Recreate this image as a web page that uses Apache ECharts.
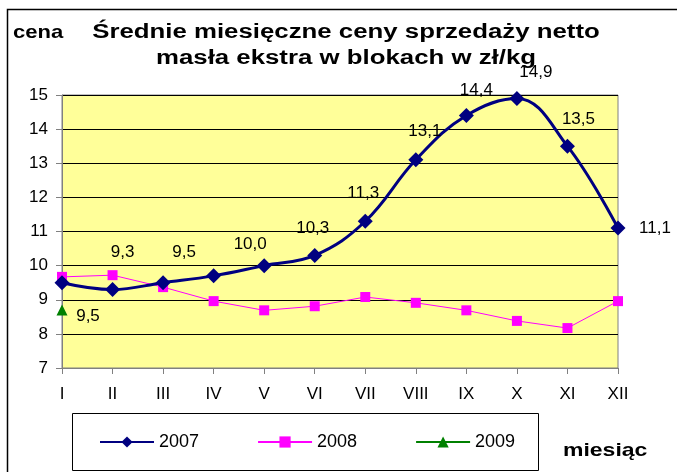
<!DOCTYPE html>
<html>
<head>
<meta charset="utf-8">
<script src="https://cdn.jsdelivr.net/npm/echarts@6/dist/echarts.min.js"></script>
<style>
  html, body { margin: 0; padding: 0; background: #fff; }
  #chart { width: 677px; height: 472px; }
</style>
</head>
<body>
<div id="chart"></div>
<script>
const months = ['I', 'II', 'III', 'IV', 'V', 'VI', 'VII', 'VIII', 'IX', 'X', 'XI', 'XII'];
const prices2007 = [9.5, 9.3, 9.5, 9.7, 10.0, 10.3, 11.3, 13.1, 14.4, 14.9, 13.5, 11.1];
const prices2008 = [9.67, 9.72, 9.37, 8.96, 8.69, 8.81, 9.08, 8.91, 8.69, 8.38, 8.17, 8.96];
const prices2009 = [8.7];

// where the Excel labels ended up, relative to each point (null = no label)
const labelShift2007 = [[26, 34], [10, -37], [21, -30], null, [-14, -21], [-2, -27],
  [-2, -28], [9, -29], [10, -25], [19, -26], [11, -27], [37, 0]];

const font = 'Arial, "Liberation Sans", sans-serif';
const fmt = v => v.toFixed(1).replace('.', ',');

const chart = echarts.init(document.getElementById('chart'));

const data2007 = prices2007.map((v, i) => {
  const shift = labelShift2007[i];
  return {
    value: v,
    label: shift
      ? { show: true, position: 'inside', offset: shift }
      : { show: false }
  };
});

const options = {
  animation: false,
  backgroundColor: '#fff',
  textStyle: { fontFamily: font },
  grid: {
    left: 62,
    right: 59,
    top: 95,
    bottom: 104,
    show: true,
    backgroundColor: '#FFFF99',
    borderColor: '#808080',
    borderWidth: 1
  },
  xAxis: {
    type: 'category',
    data: months,
    boundaryGap: false,
    axisLine: { lineStyle: { color: '#808080', width: 1 } },
    axisTick: { show: true, length: 6, inside: false, lineStyle: { color: '#808080' } },
    axisLabel: { color: '#000', fontSize: 17, fontFamily: font, margin: 18 },
    splitLine: { show: false }
  },
  yAxis: {
    type: 'value',
    min: 7,
    max: 15,
    interval: 1,
    axisLine: { show: true, lineStyle: { color: '#808080', width: 1 } },
    axisTick: { show: true, length: 6, inside: false, lineStyle: { color: '#808080' } },
    axisLabel: { color: '#000', fontSize: 17, fontFamily: font, margin: 14 },
    splitLine: { show: true, lineStyle: { color: '#000', width: 1 } }
  },
  legend: {
    left: 99,
    top: 433,
    itemWidth: 54,
    itemHeight: 14,
    itemGap: 58,
    padding: 0,
    textStyle: { fontSize: 18, color: '#000', fontFamily: font },
    data: ['2007', '2008', '2009']
  },
  graphic: [
    {
      type: 'rect',
      shape: { x: 7.5, y: 9.5, width: 700, height: 500 },
      style: { fill: null, stroke: '#000', lineWidth: 1.5 },
      silent: true,
      z: -1
    },
    {
      type: 'rect',
      shape: { x: 72.5, y: 413.5, width: 466, height: 57 },
      style: { fill: null, stroke: '#000', lineWidth: 1 },
      silent: true
    },
    {
      // title, stretched sideways like the original
      type: 'text',
      x: 346,
      y: 19,
      scaleX: 1.29,
      z: 10,
      style: {
        text: 'Średnie miesięczne ceny sprzedaży netto\nmasła ekstra w blokach w zł/kg',
        font: 'bold 20px ' + font,
        fill: '#000',
        align: 'center',
        verticalAlign: 'top',
        lineHeight: 26
      }
    },
    {
      type: 'text',
      x: 13,
      y: 23,
      scaleX: 1.16,
      style: { text: 'cena', font: 'bold 19px ' + font, fill: '#000', verticalAlign: 'top' }
    },
    {
      type: 'text',
      x: 563,
      y: 441,
      scaleX: 1.21,
      style: { text: 'miesiąc', font: 'bold 19px ' + font, fill: '#000', verticalAlign: 'top' }
    }
  ],
  series: [
    {
      name: '2007',
      type: 'line',
      data: data2007,
      smooth: 0.4,
      symbol: 'diamond',
      symbolSize: 15,
      lineStyle: { color: '#000080', width: 3 },
      itemStyle: { color: '#000080' },
      label: {
        color: '#000',
        fontSize: 17,
        fontFamily: font,
        formatter: p => fmt(p.value)
      },
      z: 4
    },
    {
      name: '2008',
      type: 'line',
      data: prices2008,
      symbol: 'rect',
      symbolSize: 10,
      lineStyle: { color: '#FF00FF', width: 1 },
      itemStyle: { color: '#FF00FF' },
      z: 3
    },
    {
      name: '2009',
      type: 'line',
      data: prices2009,
      symbol: 'triangle',
      symbolSize: 11,
      lineStyle: { color: '#008000', width: 1 },
      itemStyle: { color: '#008000' },
      z: 3
    }
  ]
};

chart.setOption(options);
</script>
</body>
</html>
